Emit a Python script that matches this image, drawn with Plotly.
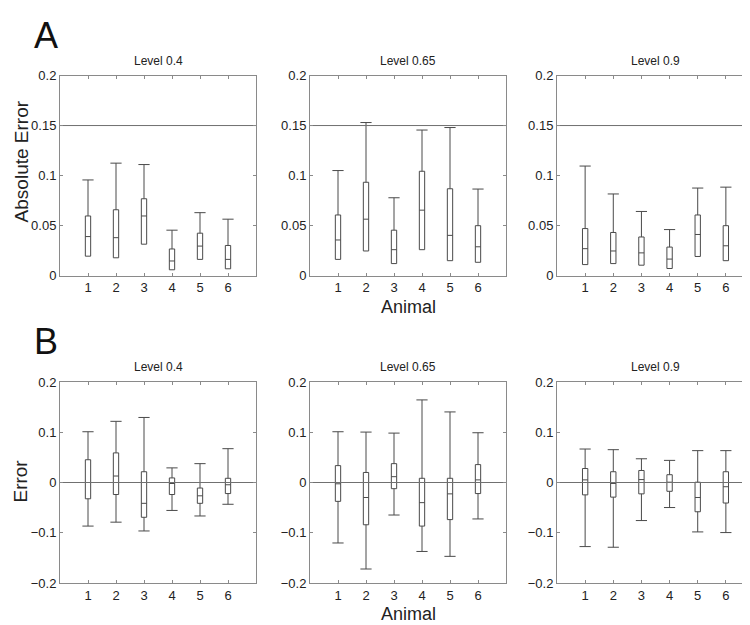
import plotly.graph_objects as go

animals = [1, 2, 3, 4, 5, 6]
levels = ["Level 0.4", "Level 0.65", "Level 0.9"]

# Row A: absolute error (no lower whiskers visible)
A_upper = [[0.0956, 0.1124, 0.1110, 0.0454, 0.0629, 0.0564],
           [0.1050, 0.1530, 0.0778, 0.1455, 0.1480, 0.0865],
           [0.1095, 0.0816, 0.0641, 0.0460, 0.0875, 0.0884]]
A_q3 = [[0.0596, 0.0658, 0.0768, 0.0266, 0.0424, 0.0301],
        [0.0606, 0.0933, 0.0454, 0.1043, 0.0868, 0.0499],
        [0.0470, 0.0431, 0.0386, 0.0285, 0.0606, 0.0499]]
A_median = [[0.0390, 0.0379, 0.0596, 0.0146, 0.0295, 0.0162],
            [0.0356, 0.0564, 0.0259, 0.0654, 0.0402, 0.0288],
            [0.0269, 0.0246, 0.0227, 0.0165, 0.0411, 0.0298]]
A_q1 = [[0.0194, 0.0178, 0.0314, 0.0058, 0.0162, 0.0068],
        [0.0162, 0.0246, 0.0120, 0.0259, 0.0149, 0.0133],
        [0.0110, 0.0120, 0.0104, 0.0071, 0.0191, 0.0149]]

# Row B: signed error
B_upper = [[0.101, 0.1217, 0.1294, 0.0291, 0.0375, 0.0673],
           [0.101, 0.1003, 0.0983, 0.1643, 0.1404, 0.0990],
           [0.0666, 0.0653, 0.0472, 0.0440, 0.0634, 0.0634]]
B_q3 = [[0.0453, 0.0589, 0.0214, 0.0091, -0.0110, 0.0084],
        [0.0336, 0.0200, 0.0375, 0.0084, 0.0084, 0.0356],
        [0.0278, 0.0214, 0.0239, 0.0155, 0.0006, 0.0214]]
B_median = [[0.0, 0.0129, -0.0414, -0.002, -0.0265, -0.0045],
            [-0.0026, -0.0298, 0.0116, -0.0401, -0.0226, 0.0052],
            [0.0052, -0.0019, 0.0058, 0.0006, -0.0298, -0.0084]]
B_q1 = [[-0.0324, -0.0239, -0.0692, -0.0239, -0.0414, -0.0220],
        [-0.0375, -0.0841, -0.0123, -0.0867, -0.0738, -0.0220],
        [-0.0246, -0.0291, -0.0226, -0.0175, -0.0582, -0.0408]]
B_lower = [[-0.0867, -0.0789, -0.0964, -0.0556, -0.0666, -0.0433],
           [-0.1203, -0.1721, -0.0647, -0.1372, -0.1469, -0.0725],
           [-0.1275, -0.1288, -0.0757, -0.0498, -0.0983, -0.0996]]

A_yticks = [0, 0.05, 0.1, 0.15, 0.2]
A_yticktext = ["0", "0.05", "0.1", "0.15", "0.2"]
B_yticks = [-0.2, -0.1, 0, 0.1, 0.2]
B_yticktext = ["\u22120.2", "\u22120.1", "0", "0.1", "0.2"]
A_ref = 0.15
B_ref = 0.0

W, H = 750, 625
FONT = "Liberation Sans, Arial, sans-serif"
BOXC = "#4a4a4a"
AXC = "#8a8a8a"

col_px = [(52, 248), (302, 498), (549, 746)]
row_px = {"A": (62, 267), "B": (376, 582)}

fig = go.Figure()

def px2x(p):
    return p / W

def px2y(p):
    return 1 - p / H

layout = dict(width=W, height=H, margin=dict(l=0, r=0, t=0, b=0),
              paper_bgcolor="white", plot_bgcolor="white", showlegend=False,
              font=dict(family=FONT, color="#222"))
annotations = []

idx = 0
for r, row in enumerate(["A", "B"]):
    for c in range(3):
        idx += 1
        xn = "x" if idx == 1 else f"x{idx}"
        yn = "y" if idx == 1 else f"y{idx}"
        xk = "xaxis" if idx == 1 else f"xaxis{idx}"
        yk = "yaxis" if idx == 1 else f"yaxis{idx}"
        x0, x1 = col_px[c]
        y0, y1 = row_px[row]
        if row == "A":
            q1, med, q3, up = A_q1[c], A_median[c], A_q3[c], A_upper[c]
            low = A_q1[c]
            yr = [0, 0.2]
            tv, tt = A_yticks, A_yticktext
            ref = A_ref
        else:
            q1, med, q3, up = B_q1[c], B_median[c], B_q3[c], B_upper[c]
            low = B_lower[c]
            yr = [-0.2, 0.2]
            tv, tt = B_yticks, B_yticktext
            ref = B_ref
        # reference line
        fig.add_trace(go.Scatter(x=[0, 7], y=[ref, ref], mode="lines",
                                 line=dict(color="#707070", width=1),
                                 xaxis=xn, yaxis=yn, hoverinfo="skip"))
        fig.add_trace(go.Box(x=animals, q1=q1, median=med, q3=q3,
                             lowerfence=low, upperfence=up,
                             width=0.19, whiskerwidth=0,
                             fillcolor="white",
                             line=dict(color=BOXC, width=1),
                             xaxis=xn, yaxis=yn, hoverinfo="skip"))
        # whisker caps
        capy = list(up)
        capx = list(animals)
        if row == "B":
            capy += list(low)
            capx += list(animals)
        fig.add_trace(go.Scatter(x=capx, y=capy, mode="markers",
                                 marker=dict(symbol="line-ew", size=8,
                                             line=dict(color=BOXC, width=1)),
                                 xaxis=xn, yaxis=yn, hoverinfo="skip"))
        layout[xk] = dict(domain=[px2x(x0), px2x(x1)], range=[0, 7],
                          anchor=yn, tickvals=animals,
                          ticktext=[str(a) for a in animals],
                          showline=True, linecolor=AXC, linewidth=1,
                          mirror="ticks", ticks="inside", ticklen=3,
                          tickcolor=AXC, showgrid=False, zeroline=False,
                          tickfont=dict(size=13, color="#222"))
        layout[yk] = dict(domain=[px2y(y1), px2y(y0)], range=yr,
                          anchor=xn, tickvals=tv, ticktext=tt,
                          showline=True, linecolor=AXC, linewidth=1,
                          mirror="ticks", ticks="inside", ticklen=3,
                          tickcolor=AXC, showgrid=False, zeroline=False,
                          tickfont=dict(size=13, color="#222"))
        # panel title
        annotations.append(dict(text=levels[c], x=px2x((x0 + x1) / 2),
                                y=px2y(y0 - 15), xref="paper", yref="paper",
                                showarrow=False, xanchor="center",
                                yanchor="middle",
                                font=dict(size=12, color="#222")))
    # x title
    annotations.append(dict(text="Animal", x=px2x(400),
                            y=px2y(row_px[row][1] + 32), xref="paper",
                            yref="paper", showarrow=False,
                            xanchor="center", yanchor="middle",
                            font=dict(size=18, color="#222")))
    # y title
    ytxt = "Absolute Error" if row == "A" else "Error"
    ycen = 150 if row == "A" else 478
    annotations.append(dict(text=ytxt, x=px2x(13), y=px2y(ycen),
                            xref="paper", yref="paper", showarrow=False,
                            textangle=-90, xanchor="center",
                            yanchor="middle",
                            font=dict(size=19, color="#222")))
    # panel letter
    annotations.append(dict(text=row, x=px2x(38),
                            y=px2y(21 if row == "A" else 335),
                            xref="paper", yref="paper", showarrow=False,
                            xanchor="center", yanchor="middle",
                            font=dict(size=36, color="#111")))

layout["annotations"] = annotations
fig.update_layout(**layout)
fig.write_html("out.html")
